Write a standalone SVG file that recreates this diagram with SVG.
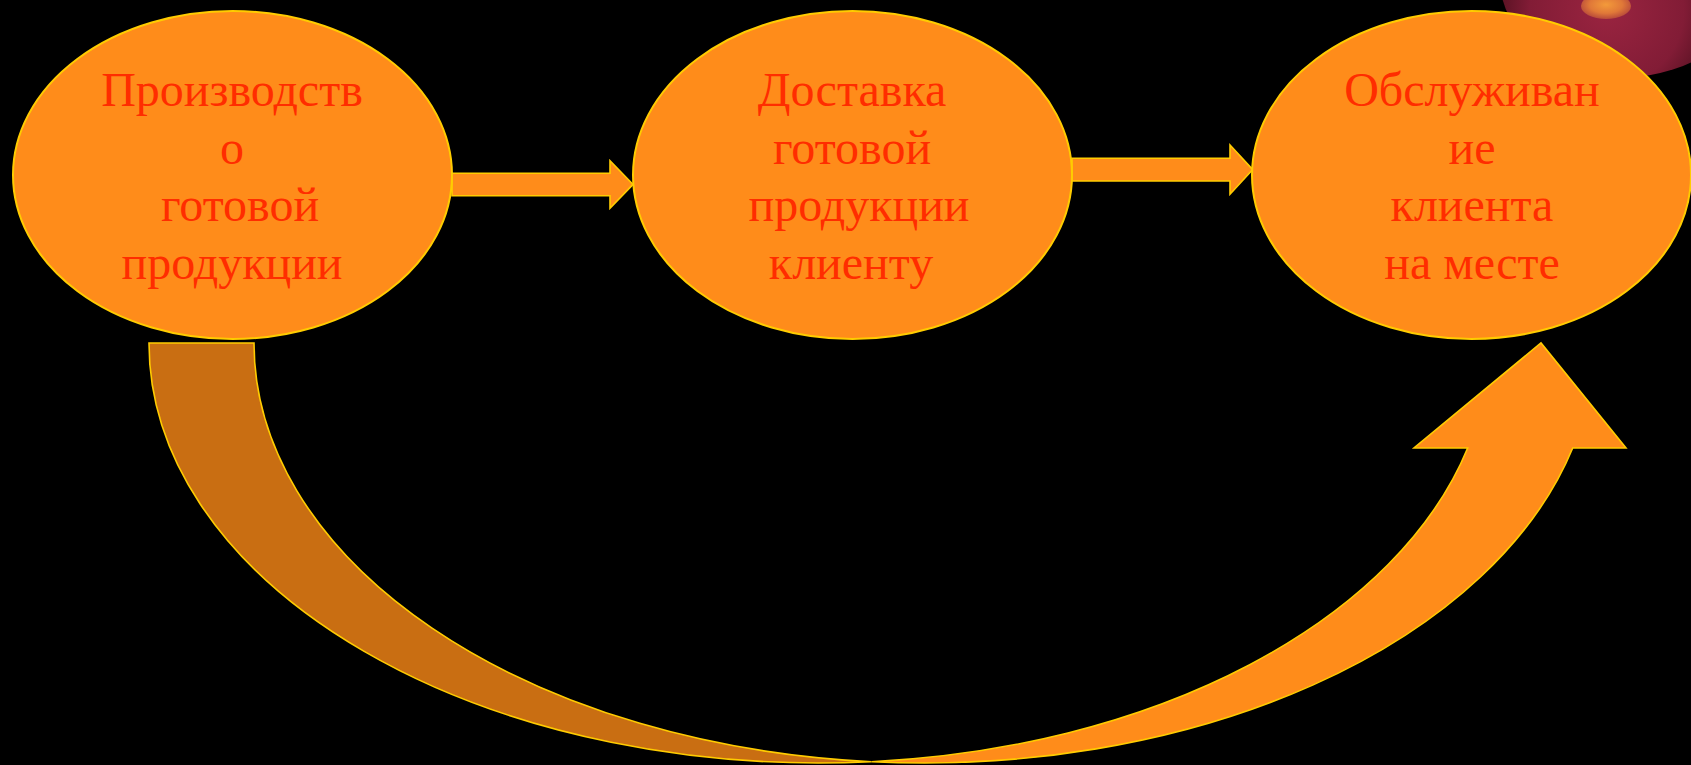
<svg xmlns="http://www.w3.org/2000/svg" width="1691" height="765" viewBox="0 0 1691 765">
  <defs>
    <radialGradient id="sphereGrad" cx="1607" cy="10" r="140" gradientUnits="userSpaceOnUse">
      <stop offset="0" stop-color="#9A2440"/>
      <stop offset="0.55" stop-color="#821C36"/>
      <stop offset="1" stop-color="#2E0810"/>
    </radialGradient>
    <radialGradient id="glowGrad" cx="0.5" cy="0.45" r="0.55">
      <stop offset="0" stop-color="#F39A3A"/>
      <stop offset="0.6" stop-color="#E07838"/>
      <stop offset="1" stop-color="#B84A3A"/>
    </radialGradient>
    <style>
      .node { fill: #FF8C1A; stroke: #FFCC00; stroke-width: 2; }
      .arrow { fill: #FF8C1A; stroke: #FFCC00; stroke-width: 1.6; stroke-linejoin: miter; }
      .shade { fill: #C96E12; stroke: #FFCC00; stroke-width: 1.6; }
      .label { font-family: "Liberation Serif", "Times New Roman", serif; font-size: 48px; fill: #FF2D00; text-anchor: middle; }
    </style>
  </defs>

  <rect x="0" y="0" width="1691" height="765" fill="#000000"/>

  <!-- decorative sphere in the upper right corner -->
  <g id="sphere">
    <ellipse cx="1625" cy="-20" rx="125" ry="97" fill="url(#sphereGrad)"/>
    <ellipse cx="1606" cy="6" rx="25" ry="13" fill="url(#glowGrad)"/>
  </g>

  <!-- connectors -->
  <g id="connectors">
    <!-- straight arrow: production -> delivery -->
    <path class="arrow" d="M452,173.3 L610,173.3 L610,160.7 L633,184.4 L610,208.2 L610,195.7 L452,195.7 Z"/>
    <!-- straight arrow: delivery -> service -->
    <path class="arrow" d="M1072,158.3 L1230,158.3 L1230,145 L1252.7,169.6 L1230,194.2 L1230,181 L1072,181 Z"/>
    <!-- curved arrow: production -> service (two ellipse arcs of the same size shifted by the band width) -->
    <path class="arrow" d="M871.5,761.7 A670,420 0 0 0 1467.7,448 L1414,448 L1541,343 L1626,448 L1572.7,448 A670,420 0 0 1 871.5,761.7 Z"/>
    <path class="shade" d="M149,343 A670,420 0 0 0 871.5,761.7 A670,420 0 0 1 254,343 Z"/>
  </g>

  <g id="node-production">
    <ellipse class="node" cx="232.5" cy="175" rx="219.5" ry="164"/>
    <text class="label" x="232" y="106">Производств</text>
    <text class="label" x="232" y="163.5">о</text>
    <text class="label" x="240" y="221">готовой</text>
    <text class="label" x="232" y="278.5">продукции</text>
  </g>

  <g id="node-delivery">
    <ellipse class="node" cx="852.5" cy="175" rx="219.5" ry="164"/>
    <text class="label" x="852" y="106">Доставка</text>
    <text class="label" x="852" y="163.5">готовой</text>
    <text class="label" x="859" y="221">продукции</text>
    <text class="label" x="851" y="278.5">клиенту</text>
  </g>

  <g id="node-service">
    <ellipse class="node" cx="1471.5" cy="175" rx="219.5" ry="164"/>
    <text class="label" x="1472" y="106">Обслуживан</text>
    <text class="label" x="1472" y="163.5">ие</text>
    <text class="label" x="1472" y="221">клиента</text>
    <text class="label" x="1472" y="278.5">на месте</text>
  </g>
</svg>
